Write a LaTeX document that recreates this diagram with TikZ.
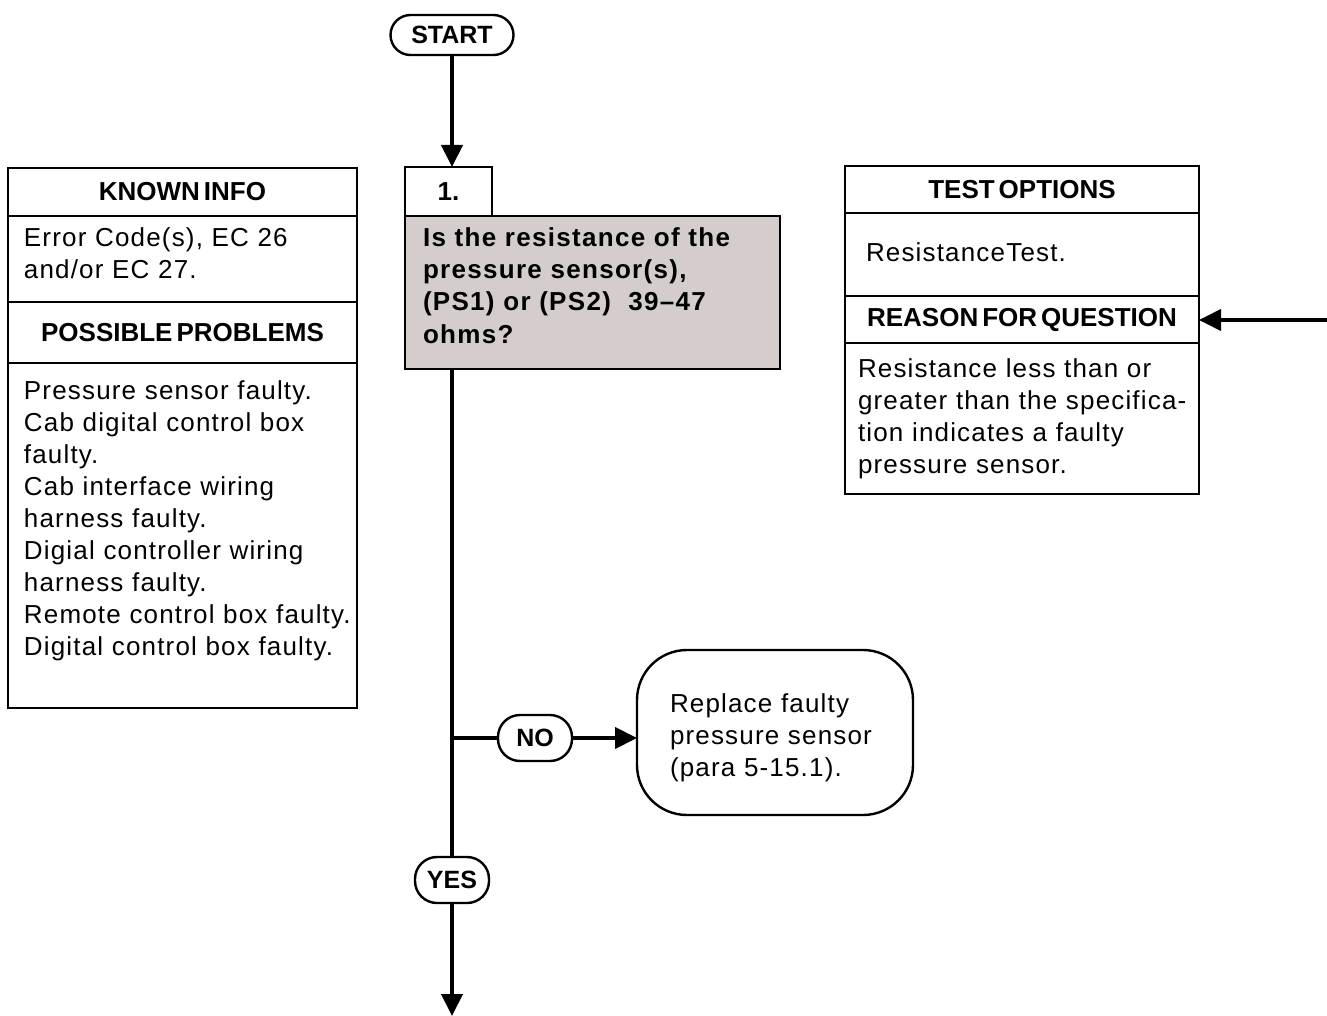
\documentclass[tikz,border=0pt]{standalone}
\usepackage{fontspec}
\setmainfont{Liberation Sans}[WordSpace=0.55]
\newfontfamily\tracked{Liberation Sans}[LetterSpace=4.5,WordSpace=0.75]
\newfontfamily\asktracked{Liberation Sans}[LetterSpace=5,WordSpace=0.8]
\usepackage{xcolor}
\usetikzlibrary{positioning,arrows.meta}
\definecolor{qgray}{RGB}{212,205,204}
\newcommand{\hdrfont}{\bfseries\fontsize{13}{15}\selectfont}
\newcommand{\pillfont}{\bfseries\fontsize{12.5}{15}\selectfont}
\newcommand{\txtfont}{\tracked\fontsize{13}{16}\selectfont}
\newcommand{\askfont}{\asktracked\bfseries\fontsize{13}{16}\selectfont}

\begin{document}
\begin{tikzpicture}[x=0.5pt, y=-0.5pt,
		panel/.style={draw, line width=1.2pt, inner sep=0pt, outer sep=0pt},
		hdr/.style={panel, font=\hdrfont, minimum height=23.5pt},
		body/.style={panel, font=\txtfont, align=left, inner ysep=0pt},
		pill/.style={draw, line width=1.2pt, rounded corners=11pt, inner sep=0pt,
				outer sep=0pt, font=\pillfont, minimum width=37pt, minimum height=23pt},
		flow/.style={line width=2pt},
		arr/.style={flow, -{Triangle[length=11pt,width=10.5pt]}}
		]
		\useasboundingbox (0,0) rectangle (1327,1016);
		% left panel
		\node[hdr, minimum width=174.5pt, minimum height=24pt, anchor=north west] (knownhd)
		at (8,168) {KNOWN INFO};
		\node[body, below=0pt of knownhd, text width=158.5pt, inner xsep=8pt,
			text height=15.5pt, text depth=27.5pt] (knowntxt)
		{Error Code(s), EC 26\\ and/or EC 27.};
		\node[hdr, below=0pt of knowntxt, minimum width=174.5pt, minimum height=30.5pt] (probhd)
		{POSSIBLE PROBLEMS};
		\node[body, below=0pt of probhd, text width=158.5pt, inner xsep=8pt,
			text height=18pt, text depth=154.5pt] (probtxt)
		{Pressure sensor faulty.\\ Cab digital control box\\ faulty.\\ Cab interface wiring\\
			harness faulty.\\ Digial controller wiring\\ harness faulty.\\
			\mbox{Remote control box faulty.}\\ \mbox{Digital control box faulty.}};
		% right panel
		\node[hdr, minimum width=177pt, anchor=north west] (testhd) at (845,166) {TEST OPTIONS};
		\node[body, below=0pt of testhd, text width=156pt, inner xsep=10.5pt,
			text height=24.5pt, text depth=17pt] (testtxt) {ResistanceTest.};
		\node[hdr, below=0pt of testtxt, minimum width=177pt] (reasonhd) {REASON FOR QUESTION};
		\node[body, below=0pt of reasonhd, text width=164pt, inner xsep=6.5pt,
			text height=17pt, text depth=58.5pt] (reasontxt)
		{\mbox{Resistance less than or}\\ \mbox{greater than the specifica-}\\
			\mbox{tion indicates a faulty}\\ \mbox{pressure sensor.}};
		% question
		\node[panel, fill=qgray, anchor=north west, font=\askfont, align=left,
			text width=169.5pt, inner xsep=9pt, text height=15.5pt, text depth=61pt] (quest)
		at (405,216) {\mbox{Is the resistance of the}\\ pressure sensor(s),\\
			\mbox{(PS1) or (PS2)\ \ 39–47}\\ ohms?};
		\node[panel, font=\hdrfont, anchor=south west, minimum width=43.5pt,
			minimum height=24.5pt] (qnum) at (quest.north west) {1.};
		% flow
		\node[pill, minimum width=61.5pt, minimum height=20pt, rounded corners=10pt] (start)
		at (452,35) {START};
		\node[pill] (no) at (535,738) {NO};
		\node[pill] (yes) at (452,880) {YES};
		\node[draw, line width=1.2pt, rounded corners=25pt, outer sep=0pt, anchor=north west,
			font=\txtfont, align=left, text width=105pt, inner xsep=16.5pt, inner ysep=0pt,
			text height=31pt, text depth=51.5pt] (fix)
		at (637,650) {Replace faulty\\ pressure sensor\\ (para 5-15.1).};
		\coordinate (feed) at (1327,320);
		\coordinate (out) at (452,1016);
		% connectors
		\draw[arr] (start.south) -- (start.south |- qnum.north);
		\draw[flow] (start.south |- quest.south) -- (yes.north);
		\draw[flow] (start |- no) -- (no.west);
		\draw[arr] (no.east) -- (no.east -| fix.west);
		\draw[arr] (yes.south) -- (out);
		\draw[arr] (feed) -- (feed -| reasonhd.east);
	\end{tikzpicture}
\end{document}
